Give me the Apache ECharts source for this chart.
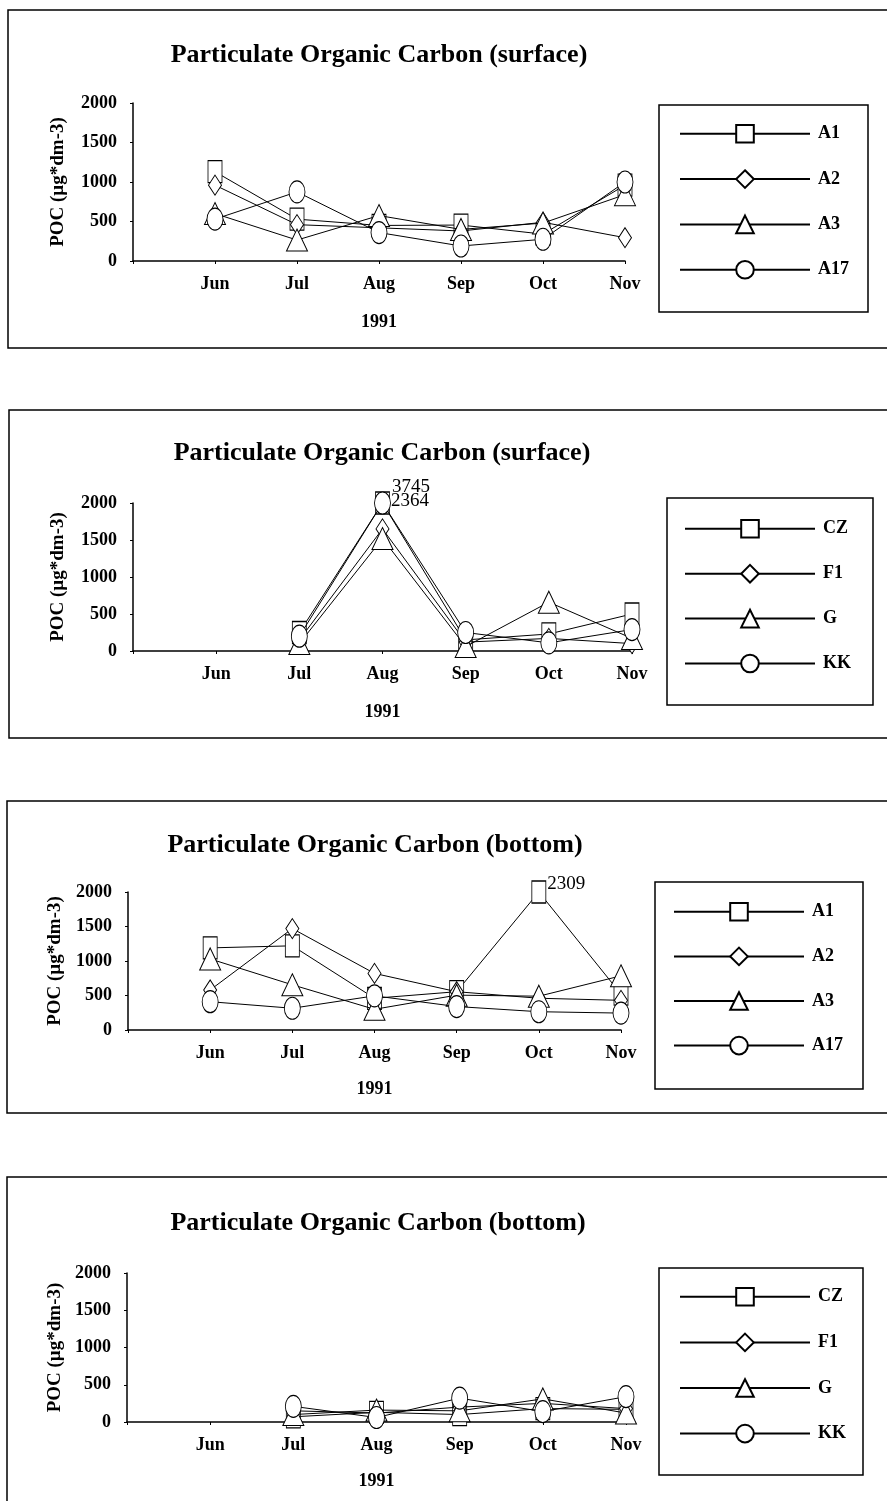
<!DOCTYPE html>
<html><head><meta charset="utf-8">
<script src="https://cdn.jsdelivr.net/npm/echarts@6/dist/echarts.min.js"></script>
<style>html,body{margin:0;padding:0;background:#fff}#c{width:887px;height:1501px}</style>
</head><body><div id="c"></div>
<script>
// ---- data ----
const months = ['Jun', 'Jul', 'Aug', 'Sep', 'Oct', 'Nov'];
const yTicks = [0, 500, 1000, 1500, 2000];
const xName = '1991';
const yName = 'POC (µg*dm-3)';
const titleSurface = 'Particulate Organic Carbon (surface)';
const titleBottom = 'Particulate Organic Carbon (bottom)';
const stationsA = ['A1', 'A2', 'A3', 'A17'];
const stationsB = ['CZ', 'F1', 'G', 'KK'];

// panel 1: surface, A stations
const surfA1 = [1130, 530, 450, 455, 340, 960];
const surfA2 = [960, 460, 420, 380, 490, 295];
const surfA3 = [600, 265, 575, 400, 480, 840];
const surfA17 = [530, 875, 360, 190, 275, 1000];
// panel 2: surface, other stations
const surfCZ = [null, 250, 2364, 150, 230, 500];
const surfF1 = [null, 150, 1650, 120, 170, 100];
const surfG = [null, 100, 1520, 60, 660, 170];
const surfKK = [null, 200, 3745, 250, 110, 290];
// panel 3: bottom, A stations
const botA1 = [1190, 1220, 460, 555, 2309, 520];
const botA2 = [580, 1470, 820, 555, 460, 430];
const botA3 = [1030, 655, 300, 505, 490, 785];
const botA17 = [410, 315, 495, 340, 265, 245];
// panel 4: bottom, other stations
const botCZ = [null, 70, 130, 100, 180, 170];
const botF1 = [null, 150, 120, 200, 250, 180];
const botG = [null, 100, 160, 150, 310, 120];
const botKK = [null, 210, 60, 320, 140, 340];

// ---- styling / layout ----
const FONT = '"Liberation Serif", "Times New Roman", serif';
const symbols = { A1: 'rect', CZ: 'rect', A2: 'diamond', F1: 'diamond', A3: 'triangle', G: 'triangle', A17: 'circle', KK: 'circle' };
const symbolSizes = { rect: [14, 22], diamond: [13, 20], triangle: [21, 22], circle: [16, 22] };
const capLabelDy = { KK: -16, CZ: -2, A1: -8 };

const panels = [
  { title: titleSurface, names: stationsA, data: [surfA1, surfA2, surfA3, surfA17],
    grid: { left: 133, top: 103, width: 492, height: 158 }, tx: 379, ty: 55, yGap: 65, xGap: 52,
    leg: { left: 679, top: 124, gap: 25.7 }, box: [659, 105, 209, 207], frame: [8, 10, 1000, 338] },
  { title: titleSurface, names: stationsB, data: [surfCZ, surfF1, surfG, surfKK],
    grid: { left: 133, top: 503, width: 499, height: 148 }, tx: 382, ty: 453, yGap: 65, xGap: 52,
    leg: { left: 684, top: 519, gap: 25.3 }, box: [667, 498, 206, 207], frame: [9, 410, 1000, 328] },
  { title: titleBottom, names: stationsA, data: [botA1, botA2, botA3, botA17],
    grid: { left: 128, top: 892, width: 493, height: 138 }, tx: 375, ty: 845, yGap: 63, xGap: 50,
    leg: { left: 673, top: 902, gap: 25 }, box: [655, 882, 208, 207], frame: [7, 801, 1000, 312] },
  { title: titleBottom, names: stationsB, data: [botCZ, botF1, botG, botKK],
    grid: { left: 127, top: 1273, width: 499, height: 149 }, tx: 378, ty: 1223, yGap: 62, xGap: 50,
    leg: { left: 679, top: 1287, gap: 26 }, box: [659, 1268, 204, 207], frame: [7, 1177, 1000, 400] }
];

const YMAX = yTicks[yTicks.length - 1];
const txt = { fontFamily: FONT, fontWeight: 'bold', fontSize: 18, color: '#000' };

const grid = [], xAxis = [], yAxis = [], series = [], legend = [], graphic = [];
panels.forEach((p, i) => {
  grid.push(Object.assign({ containLabel: false }, p.grid));
  xAxis.push({
    type: 'category', gridIndex: i, data: [''].concat(months), boundaryGap: false,
    axisLine: { lineStyle: { color: '#000', width: 1.5 } },
    axisTick: { show: true, length: 3, lineStyle: { color: '#000' } },
    axisLabel: Object.assign({ interval: 0, margin: 14 }, txt),
    name: xName, nameLocation: 'middle', nameGap: p.xGap, nameTextStyle: txt
  });
  yAxis.push({
    type: 'value', gridIndex: i, min: yTicks[0], max: YMAX, interval: yTicks[1] - yTicks[0],
    splitLine: { show: false },
    axisLine: { show: true, lineStyle: { color: '#000', width: 1.5 } },
    axisTick: { show: true, length: 3, lineStyle: { color: '#000' } },
    axisLabel: Object.assign({ margin: 16, formatter: v => String(v) }, txt),
    name: yName, nameLocation: 'middle', nameRotate: 90, nameGap: p.yGap,
    nameTextStyle: Object.assign({}, txt, { fontSize: 19 })
  });
  p.names.forEach((n, k) => {
    const sym = symbols[n];
    const d = [null].concat(p.data[k]).map(v => {
      if (v == null) return null;
      if (v > YMAX) {
        return { value: YMAX, label: { show: true, formatter: String(v), position: 'right', distance: 1,
          offset: [0, capLabelDy[n] || 0], fontFamily: FONT, fontSize: 19, color: '#000' } };
      }
      return v;
    });
    series.push({
      type: 'line', name: n, xAxisIndex: i, yAxisIndex: i, data: d,
      symbol: sym, symbolSize: symbolSizes[sym], showSymbol: true, showAllSymbol: true,
      lineStyle: { color: '#000', width: 1 },
      itemStyle: { color: '#fff', borderColor: '#000', borderWidth: 1 },
      emphasis: { disabled: true }, animation: false, z: 3 + k
    });
  });
  legend.push({
    data: p.names, orient: 'vertical', left: p.leg.left, top: p.leg.top,
    itemWidth: 130, itemHeight: 22, itemGap: p.leg.gap, padding: 0, selectedMode: false,
    textStyle: Object.assign({}, txt, { padding: [0, 0, 0, 3] })
  });
  graphic.push({ type: 'rect', shape: { x: p.frame[0], y: p.frame[1], width: p.frame[2], height: p.frame[3] },
    style: { fill: 'none', stroke: '#000', lineWidth: 1.5 }, silent: true, z: 1 });
  graphic.push({ type: 'rect', shape: { x: p.box[0], y: p.box[1], width: p.box[2], height: p.box[3] },
    style: { fill: 'none', stroke: '#000', lineWidth: 1.5 }, silent: true, z: 1 });
  graphic.push({ type: 'text', x: p.tx, y: p.ty, silent: true, z: 5,
    style: { text: p.title, font: 'bold 26px ' + FONT, fill: '#000', textAlign: 'center', textVerticalAlign: 'middle' } });
});

const chart = echarts.init(document.getElementById('c'), null, { renderer: 'canvas' });
chart.setOption({
  backgroundColor: '#fff', animation: false,
  grid, xAxis, yAxis, series, legend, graphic,
  tooltip: { show: false }
});
</script></body></html>
